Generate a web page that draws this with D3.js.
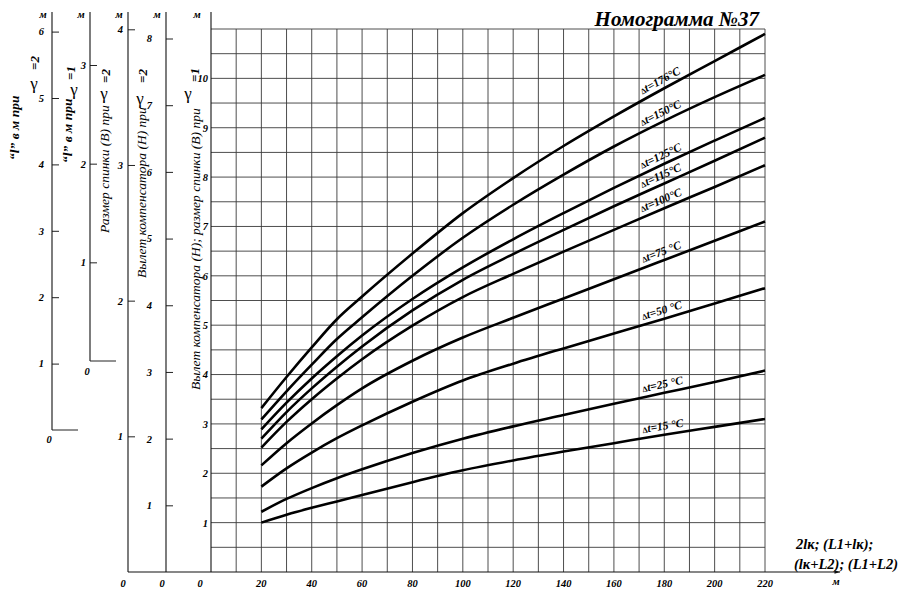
<!DOCTYPE html>
<html><head><meta charset="utf-8">
<script src="https://cdn.jsdelivr.net/npm/d3@7"></script>
<style>body{margin:0;background:#fff}svg{display:block}</style>
</head><body><svg id="c" width="901" height="590"></svg>
<script>
// ---- data ----
const xValues = [20,30,40,50,60,80,100,120,140,160,180,200,220];
const dt15  = [1.00,1.16,1.30,1.43,1.56,1.82,2.06,2.26,2.44,2.61,2.78,2.94,3.10];
const dt25  = [1.22,1.48,1.70,1.90,2.08,2.41,2.70,2.95,3.18,3.41,3.63,3.85,4.08];
const dt50  = [1.73,2.10,2.42,2.71,2.97,3.45,3.88,4.22,4.53,4.83,5.13,5.44,5.75];
const dt75  = [2.16,2.61,3.01,3.38,3.72,4.28,4.75,5.15,5.54,5.93,6.32,6.71,7.10];
const dt100 = [2.52,3.04,3.50,3.92,4.31,4.99,5.57,6.04,6.49,6.93,7.37,7.80,8.24];
const dt115 = [2.70,3.24,3.72,4.16,4.57,5.30,5.92,6.44,6.93,7.41,7.87,8.33,8.80];
const dt125 = [2.89,3.43,3.92,4.37,4.79,5.53,6.17,6.74,7.27,7.78,8.27,8.74,9.20];
const dt150 = [3.09,3.66,4.20,4.72,5.16,6.00,6.77,7.44,8.05,8.62,9.14,9.62,10.07];
const dt176 = [3.32,3.95,4.55,5.12,5.58,6.45,7.27,7.98,8.63,9.23,9.80,10.35,10.90];
const seriesNums = ["15 ","25 ","50 ","75 ","100","115","125","150","176"];
const seriesData = [dt15,dt25,dt50,dt75,dt100,dt115,dt125,dt150,dt176];
const xTickLabels = [20,40,60,80,100,120,140,160,180,200,220];
const mainTicks = [1,2,3,4,5,6,7,8,9,10];
const l2Ticks = [1,2,3,4,5,6];      // "l" при γ=2
const l1Ticks = [1,2,3];            // "l" при γ=1
const b2Ticks = [1,2,3,4];          // B при γ=2
const h2Ticks = [1,2,3,4,5,6,7,8];  // H при γ=2
const title = "Номограмма №37";
const xTitle1 = "2lк; (L1+lк);", xTitle2 = "(lк+L2); (L1+L2)";

const svg = d3.select("#c");
const FONT = "'Liberation Serif','Times New Roman',serif";
const fmt = d3.format("d");
const x = d3.scaleLinear().domain([0,220]).range([211,765]);
const y = d3.scaleLinear().domain([0,11]).range([572,29]);

// grid
const g = svg.append("g").attr("stroke","#3a3a3a").attr("stroke-width",0.9);
g.selectAll(".v").data(d3.range(10,221,10)).join("line")
  .attr("x1",d=>x(d)).attr("x2",d=>x(d)).attr("y1",y(11)).attr("y2",y(0));
g.selectAll(".h").data(d3.range(0.5,11.01,0.5)).join("line")
  .attr("x1",x(0)).attr("x2",x(220)).attr("y1",d=>y(d)).attr("y2",d=>y(d));

// main axis
const mainAx = svg.append("g").attr("transform",`translate(${x(0)},0)`)
  .call(d3.axisLeft(y).tickValues(mainTicks).tickFormat(fmt).tickSize(0).tickPadding(3));
mainAx.select(".domain").remove();

// left nomogram scales
const scales = [
  {xp:52,  dom:[0,6], rng:[430,31.6], ticks:l2Ticks, pad:8,  zeroH:[52,78], zeroLbl:[49,443]},
  {xp:90,  dom:[0,3], rng:[361,65],   ticks:l1Ticks, pad:4,  zeroH:[90,116], zeroLbl:[87,375]},
  {xp:128, dom:[0,4], rng:[572,29.3], ticks:b2Ticks, pad:5,  zeroH:null, zeroLbl:[123,587]},
  {xp:166, dom:[0,8], rng:[572,38.5], ticks:h2Ticks, pad:14, zeroH:null, zeroLbl:[162,587]}
];
scales.forEach(s=>{
  const sc = d3.scaleLinear().domain(s.dom).range(s.rng);
  const ax = svg.append("g").attr("transform",`translate(${s.xp},0)`)
    .call(d3.axisLeft(sc).tickValues(s.ticks).tickFormat(fmt).tickSize(-7).tickPadding(s.pad));
  ax.select(".domain").remove();
  ax.selectAll("line").attr("stroke","#222");
  svg.append("line").attr("x1",s.xp).attr("x2",s.xp).attr("y1",12).attr("y2",sc(0))
    .attr("stroke","#111").attr("stroke-width",1.1);
  if(s.zeroH) svg.append("line").attr("x1",s.zeroH[0]).attr("x2",s.zeroH[1])
    .attr("y1",sc(0)).attr("y2",sc(0)).attr("stroke","#222").attr("stroke-width",1);
  svg.append("text").attr("x",s.zeroLbl[0]).attr("y",s.zeroLbl[1]).attr("text-anchor","middle").text("0").attr("class","tk");
  svg.append("text").attr("x",s.xp-9).attr("y",18).attr("text-anchor","middle").text("м").attr("class","tk");
});
svg.append("line").attr("x1",x(0)).attr("x2",x(0)).attr("y1",12).attr("y2",y(0)).attr("stroke","#111").attr("stroke-width",1.1);
svg.append("text").attr("x",x(0)-14).attr("y",18).attr("text-anchor","middle").text("м").attr("class","tk");
svg.append("text").attr("x",200).attr("y",587).attr("text-anchor","middle").text("0").attr("class","tk");

// bottom line with arrow
svg.append("defs").append("marker").attr("id","arr").attr("viewBox","0 0 10 10").attr("refX",10).attr("refY",5)
  .attr("markerWidth",7).attr("markerHeight",5).attr("orient","auto")
  .append("path").attr("d","M0,2 L10,5 L0,8 Z").attr("fill","#111");
svg.append("line").attr("x1",128).attr("x2",840).attr("y1",y(0)).attr("y2",y(0))
  .attr("stroke","#111").attr("stroke-width",1.1).attr("marker-end","url(#arr)");

// x tick labels
svg.selectAll(".xl").data(xTickLabels).join("text").attr("class","tk")
  .attr("x",d=>x(d)).attr("y",587).attr("text-anchor","middle").text(d=>d);
svg.append("text").attr("class","tk").attr("x",836).attr("y",585).attr("text-anchor","middle").text("м");

// curves
const line = d3.line().x((d,i)=>x(xValues[i])).y(d=>y(d)).curve(d3.curveMonotoneX);
svg.selectAll(".crv").data(seriesData).join("path").attr("d",d=>line(d))
  .attr("fill","none").attr("stroke","#000").attr("stroke-width",2.6).attr("stroke-linejoin","round");

// curve labels
const i160 = xValues.indexOf(160), i180 = xValues.indexOf(180), i200 = xValues.indexOf(200);
seriesData.forEach((s,k)=>{
  const vx = 180, vy = s[i180];
  const ang = Math.atan2(y(s[i200])-y(s[i160]), x(200)-x(160))*180/Math.PI;
  const t = svg.append("text").attr("transform",`translate(${x(vx)},${y(vy)}) rotate(${ang})`)
    .attr("text-anchor","middle").attr("dy",-5)
    .attr("font-family",FONT).attr("font-style","italic").attr("font-weight","bold").attr("font-size",11.5);
  t.append("tspan").attr("font-size",8).attr("font-style","normal").text("Δ");
  const n = seriesNums[k];
  t.append("tspan").text("t="+n.trim()+(n.endsWith(" ")?" °C":"°C"));
});

// titles
svg.append("text").attr("x",759).attr("y",26).attr("text-anchor","end")
  .attr("font-family",FONT).attr("font-style","italic").attr("font-weight","bold").attr("font-size",21).text(title);
svg.append("text").attr("x",796).attr("y",549).attr("font-family",FONT).attr("font-style","italic").attr("font-weight","bold").attr("font-size",14.5).text(xTitle1);
svg.append("text").attr("x",794).attr("y",569).attr("font-family",FONT).attr("font-style","italic").attr("font-weight","bold").attr("font-size",14.5).text(xTitle2);

// rotated scale titles
const vt = [
  {tx:19, y0:160, w:"bold",   txt:"\u201Cl\u201D в м при", gx:34, gy:89, eq:"=2", ex:39, ey:70},
  {tx:72, y0:163, w:"bold",   txt:"\u201Cl\u201D в м при", gx:74, gy:95, eq:"=1", ex:75, ey:80},
  {tx:109,y0:233, w:"normal", txt:"Размер спинки (B) при", gx:104, gy:99, eq:"=2", ex:110, ey:83},
  {tx:146,y0:278, w:"normal", txt:"Вылет компенсатора (H) при", gx:140, gy:104, eq:"=2", ex:147, ey:83},
  {tx:200,y0:390, w:"normal", txt:"Вылет компенсатора (H); размер спинки (B) при", gx:188, gy:99, eq:"=1", ex:199, ey:82}
];
vt.forEach(v=>{
  svg.append("text").attr("transform",`translate(${v.tx},${v.y0}) rotate(-90)`)
    .attr("font-family",FONT).attr("font-style","italic").attr("font-weight",v.w).attr("font-size",13.5).text(v.txt);
  svg.append("text").attr("x",v.gx).attr("y",v.gy).attr("text-anchor","middle")
    .attr("font-family",FONT).attr("font-size",17).text("γ");
  svg.append("text").attr("transform",`translate(${v.ex},${v.ey}) rotate(-90)`)
    .attr("font-family",FONT).attr("font-style","italic").attr("font-weight","bold").attr("font-size",13).text(v.eq);
});

svg.selectAll(".tick text, .tk").attr("font-family",FONT).attr("font-style","italic")
  .attr("font-weight","bold").attr("font-size",10.5).attr("fill","#000");
</script></body></html>
